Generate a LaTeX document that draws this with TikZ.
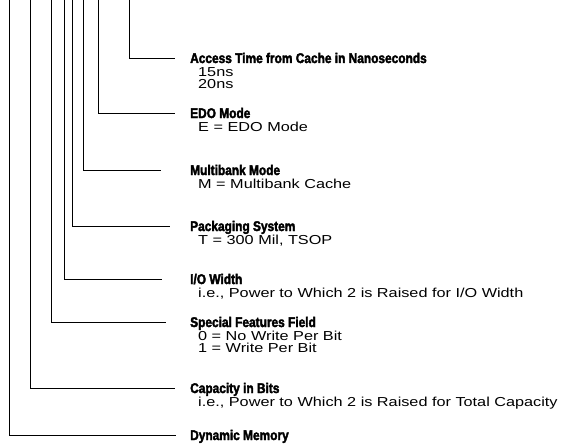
\documentclass[tikz,border=0pt]{standalone}
\usepackage{fontspec}
\setmainfont{Liberation Sans}
\newfontfamily\bodyfont[FakeStretch=1.25]{Liberation Sans}
\newfontfamily\headfont[FakeStretch=0.85,FakeBold=2.5]{Liberation Sans}
\tikzset{
  lead/.style={line width=0.9pt, black},
  head/.style={anchor=base west, inner sep=0pt, font=\headfont\bfseries\fontsize{14}{14}\selectfont},
  body/.style={anchor=base west, inner sep=0pt, font=\bodyfont\fontsize{13}{13}\selectfont},
}
\begin{document}
\begin{tikzpicture}[x=1pt,y=-1pt]
\useasboundingbox (0,0) rectangle (564,444);
% leader coordinates
\coordinate (Atop) at (129,-1); \coordinate (Aend) at (175,58);
\coordinate (Etop) at (98,-1);  \coordinate (Eend) at (175,113);
\coordinate (Mtop) at (83,-1);  \coordinate (Mend) at (161,170);
\coordinate (Ptop) at (72,-1);  \coordinate (Pend) at (170,226);
\coordinate (Wtop) at (64,-1);  \coordinate (Wend) at (162,279);
\coordinate (Stop) at (51,-1);  \coordinate (Send) at (166,322);
\coordinate (Ctop) at (30,-1);  \coordinate (Cend) at (175,388);
\coordinate (Dtop) at (9,-1);   \coordinate (Dend) at (176,435);
\foreach \k in {A,E,M,P,W,S,C,D}{\draw[lead] (\k top) |- (\k end);}
% texts
\node[head] (At) at (190,63) {Access Time from Cache in Nanoseconds};
\node[body] (Ab1) at (198,76) {15ns};
\node[body] (Ab2) at (198,88) {20ns};
\node[head] (Et) at (190,118) {EDO Mode};
\node[body] (Eb1) at (198,131) {E = EDO Mode};
\node[head] (Mt) at (190,175) {Multibank Mode};
\node[body] (Mb1) at (198,188) {M = Multibank Cache};
\node[head] (Pt) at (190,231) {Packaging System};
\node[body] (Pb1) at (198,244) {T = 300 Mil, TSOP};
\node[head] (Wt) at (190,284) {I/O Width};
\node[body] (Wb1) at (198,297) {i.e., Power to Which 2 is Raised for I/O Width};
\node[head] (St) at (190,327) {Special Features Field};
\node[body] (Sb1) at (198,340) {0 = No Write Per Bit};
\node[body] (Sb2) at (198,352) {1 = Write Per Bit};
\node[head] (Ct) at (190,393) {Capacity in Bits};
\node[body] (Cb1) at (198,406) {i.e., Power to Which 2 is Raised for Total Capacity};
\node[head] (Dt) at (190,440) {Dynamic Memory};
\end{tikzpicture}
\end{document}
